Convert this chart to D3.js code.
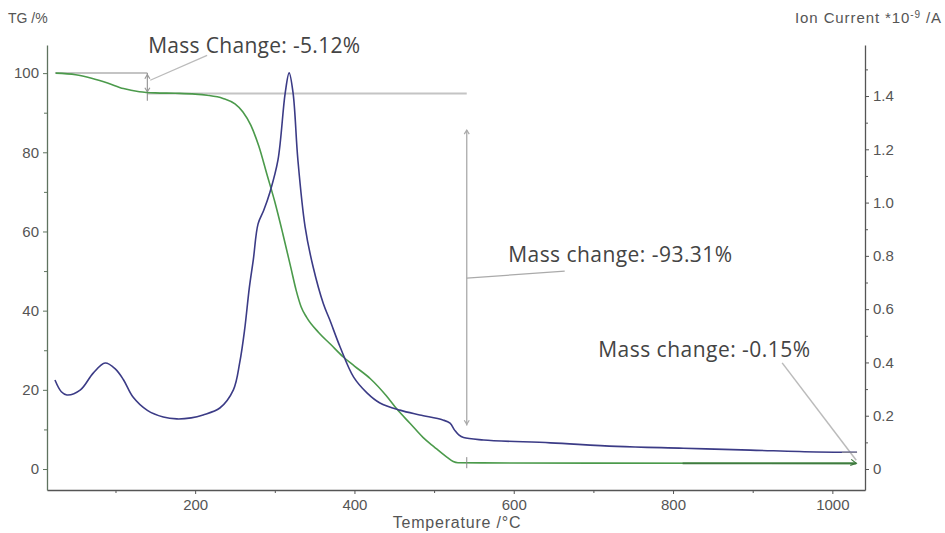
<!DOCTYPE html>
<html><head><meta charset="utf-8">
<script src="https://cdn.jsdelivr.net/npm/d3@7"></script>
<style>
body{margin:0;background:#fff;}
svg{display:block;}
.tick text{font-family:"Liberation Sans",Arial,sans-serif;font-size:15px;fill:#555;}
</style></head>
<body>
<svg id="chart" width="945" height="533"></svg>
<script>
// ---- data ----
const tgTemp = [25,50,70,90,110,130,150,175,200,215,235,250,260,270,280,290,300,310,320,327,333,340,355,370,386,400,420,440,453,470,486,500,516,524,530,560,700,900,1030];
const tgValues = [100,99.6,98.7,97.5,96.1,95.3,95.0,94.9,94.7,94.4,93.6,92.2,90.2,86.8,81.5,74.5,67.5,59.5,51,45,41,38.3,34.5,31.5,28.3,26,22.8,18.5,15.2,11.5,8.0,5.6,3.0,1.9,1.6,1.55,1.5,1.45,1.42];

const icTemp = [24,32,39,56,72,87,100,110,122,140,160,177,195,210,231,248,256,262,268,273,279,286,294,304,313,318,323,329,338,348,361,369,382,399,416,432,457,482,511,520,526,531,537,562,646,729,813,897,980,1031];
const icValues = [0.334,0.29,0.278,0.297,0.36,0.398,0.375,0.335,0.27,0.22,0.195,0.188,0.192,0.203,0.229,0.297,0.40,0.52,0.68,0.785,0.92,0.97,1.04,1.16,1.41,1.487,1.41,1.16,0.91,0.76,0.62,0.56,0.458,0.345,0.285,0.248,0.221,0.203,0.184,0.172,0.145,0.128,0.118,0.109,0.098,0.085,0.078,0.071,0.064,0.063];

const xTicks = [200,400,600,800,1000];
const xMinor = [100,300,500,700,900];
const tgTicks = [0,20,40,60,80,100];
const tgMinor = [10,30,50,70,90];
const icTicks = [0,0.2,0.4,0.6,0.8,1.0,1.2,1.4];
const icMinor = [0.1,0.3,0.5,0.7,0.9,1.1,1.3,1.5];

const annoTexts = ["Mass Change: -5.12%","Mass change: -93.31%","Mass change: -0.15%"];
const annoTextT = [141,593,706];
const annoTextTG = [105,52.3,28.3];

const stepLevels = [100,94.88,1.57,1.42];

// ---- layout ----
const svg = d3.select("#chart");
const x = d3.scaleLinear().domain([14,1041]).range([47,865]);
const yL = d3.scaleLinear().domain([-5.3,107.1]).range([490,45]);
const yR = d3.scaleLinear().domain([-0.0788,1.5915]).range([490,45]);

const green = "#4b9a4b", blue = "#3b3b86";
const axisCol = "#555";

// axes
function styleAxis(g,col){
  g.select(".domain").attr("stroke",col).attr("stroke-width",1.3);
  g.selectAll(".tick line").attr("stroke",col);
}
const gx = svg.append("g").attr("transform","translate(0,490)")
  .call(d3.axisBottom(x).tickValues(xTicks).tickSize(4).tickSizeOuter(0).tickPadding(5).tickFormat(d3.format("d")));
styleAxis(gx,axisCol);
const gxm = svg.append("g").attr("transform","translate(0,490)")
  .call(d3.axisBottom(x).tickValues(xMinor).tickSize(3).tickSizeOuter(0).tickFormat(""));
gxm.select(".domain").remove(); gxm.selectAll(".tick line").attr("stroke",axisCol);

const gl = svg.append("g").attr("transform","translate(47,0)")
  .call(d3.axisLeft(yL).tickValues(tgTicks).tickSize(4).tickSizeOuter(0).tickPadding(4));
styleAxis(gl,"#5f735f");
const glm = svg.append("g").attr("transform","translate(47,0)")
  .call(d3.axisLeft(yL).tickValues(tgMinor).tickSize(3).tickFormat(""));
glm.select(".domain").remove(); glm.selectAll(".tick line").attr("stroke","#5f735f");

const gr = svg.append("g").attr("transform","translate(865,0)")
  .call(d3.axisRight(yR).tickValues(icTicks).tickSize(4).tickSizeOuter(0).tickPadding(4).tickFormat(d=> d===0?"0":d3.format(".1f")(d)));
styleAxis(gr,axisCol);
const grm = svg.append("g").attr("transform","translate(865,0)")
  .call(d3.axisRight(yR).tickValues(icMinor).tickSize(3).tickFormat(""));
grm.select(".domain").remove(); grm.selectAll(".tick line").attr("stroke",axisCol);

// titles
const tf = '"Liberation Sans",Arial,sans-serif';
svg.append("text").attr("x",8).attr("y",23).attr("font-family",tf).attr("font-size",14).attr("fill","#555").text("TG /%");
const ic = svg.append("text").attr("x",942).attr("y",23).attr("text-anchor","end").attr("font-family",tf).attr("font-size",15).attr("letter-spacing",0.9).attr("fill","#555");
ic.append("tspan").text("Ion Current *10");
ic.append("tspan").attr("dy",-5).attr("font-size",10).text("-9");
ic.append("tspan").attr("dy",5).text(" /A");
svg.append("text").attr("x",457).attr("y",528).attr("text-anchor","middle").attr("font-family",tf).attr("font-size",16).attr("letter-spacing",0.8).attr("fill","#555").text("Temperature /°C");

// annotation lines (behind curves)
const ann = svg.append("g").attr("fill","none");
const lg = "#c4c4c4";
ann.append("line").attr("x1",x(24)).attr("x2",x(140)).attr("y1",yL(stepLevels[0])).attr("y2",yL(stepLevels[0])).attr("stroke",lg).attr("stroke-width",2);
ann.append("line").attr("x1",x(140)).attr("x2",x(541)).attr("y1",yL(stepLevels[1])).attr("y2",yL(stepLevels[1])).attr("stroke",lg).attr("stroke-width",2);
// vertical double arrows
ann.append("line").attr("x1",x(140)).attr("x2",x(140)).attr("y1",yL(stepLevels[0])).attr("y2",yL(93)).attr("stroke","#999").attr("stroke-width",1.2);
ann.append("line").attr("x1",x(541)).attr("x2",x(541)).attr("y1",yL(85.6)).attr("y2",yL(11)).attr("stroke","#aaa").attr("stroke-width",1.3);
function arrowHead(px,py,dir,col){
  const s=4*dir;
  svg.append("path").attr("d",`M${px-2.5},${py+s} L${px},${py} L${px+2.5},${py+s}`).attr("fill","none").attr("stroke",col).attr("stroke-width",1.2);
}
arrowHead(x(140),yL(99.6),1,"#999");
arrowHead(x(140),yL(95.3),-1,"#999");
arrowHead(x(541),yL(85.6),1,"#aaa");
arrowHead(x(541),yL(11.3),-1,"#aaa");
// leader lines
ann.append("line").attr("x1",x(143.6)).attr("y1",yL(98.2)).attr("x2",x(215)).attr("y2",yL(104.5)).attr("stroke","#bbb").attr("stroke-width",1.3);
ann.append("line").attr("x1",x(541)).attr("y1",yL(48.2)).attr("x2",x(664)).attr("y2",yL(50)).attr("stroke","#aaa").attr("stroke-width",1.3);
ann.append("line").attr("x1",x(937)).attr("y1",yL(26.8)).attr("x2",x(1030)).attr("y2",yL(2.2)).attr("stroke","#bbb").attr("stroke-width",1.5);

// curves
const lineTG = d3.line().x((d,i)=>x(tgTemp[i])).y(d=>yL(d)).curve(d3.curveMonotoneX);
const lineIC = d3.line().x((d,i)=>x(icTemp[i])).y(d=>yR(d)).curve(d3.curveCatmullRom.alpha(0.5));
svg.append("path").attr("d",lineTG(tgValues)).attr("fill","none").attr("stroke",green).attr("stroke-width",1.6);
svg.append("path").attr("d",lineIC(icValues)).attr("fill","none").attr("stroke",blue).attr("stroke-width",1.6);

// third annotation overlay on final plateau
svg.append("line").attr("x1",x(812)).attr("x2",x(1030)).attr("y1",yL(stepLevels[3])).attr("y2",yL(stepLevels[3])).attr("stroke","#3f7a3f").attr("stroke-width",1.6);
svg.append("line").attr("x1",x(1012)).attr("x2",x(1031)).attr("y1",yR(0.063)).attr("y2",yR(0.063)).attr("stroke","#999").attr("stroke-width",1);
svg.append("line").attr("x1",x(541)).attr("x2",x(541)).attr("y1",yL(3)).attr("y2",yL(0.2)).attr("stroke","#888");
svg.append("path").attr("d",`M${x(1030)-5},${yL(stepLevels[3])-4} L${x(1030)},${yL(stepLevels[3])} L${x(1030)-6},${yL(stepLevels[3])+2}`).attr("fill","none").attr("stroke","#3f7a3f").attr("stroke-width",1.2);

// annotation texts
const af = '"Open Sans","Noto Sans",sans-serif';
const annoWidths = [212,224,212];
annoTexts.forEach((t,i)=>{
  svg.append("text").attr("x",x(annoTextT[i])).attr("y",yL(annoTextTG[i]))
    .attr("font-family",af).attr("font-size",21).attr("fill","#444")
    .attr("textLength",annoWidths[i]).attr("lengthAdjust","spacing").text(t);
});
</script>
</body></html>
